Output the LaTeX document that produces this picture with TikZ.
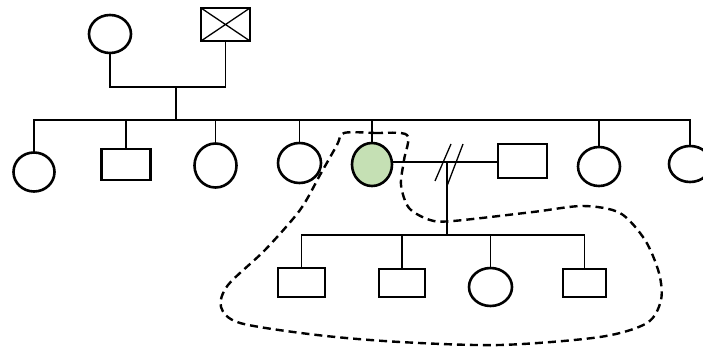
\documentclass[tikz,border=0pt]{standalone}
\usetikzlibrary{shapes.geometric,calc}
\definecolor{pgreen}{RGB}{197,224,180}
\begin{document}
\begin{tikzpicture}[x=1pt,y=-1pt,
 fem/.style={ellipse,draw,line width=2.6pt,inner sep=0,outer sep=0},
 male/.style={rectangle,draw,line width=2.6pt,inner sep=0,outer sep=0},
 conn/.style={line width=1.3pt},
 bound/.style={line width=2.4pt,dash pattern=on 8pt off 5pt}]
\useasboundingbox (0,0) rectangle (703,347);
\clip (0,0) rectangle (703,347);
% grandparents
\node[fem,minimum width=42pt,minimum height=38pt] (gm) at (110,34) {};
\node[male,minimum width=49pt,minimum height=33pt] (gf) at (225.5,24.5) {};
\draw[conn] (gf.north west) -- (gf.south east) (gf.south west) -- (gf.north east);
% siblings
\node[fem,minimum width=41pt,minimum height=39pt] (s1) at (34,172) {};
\node[male,minimum width=49pt,minimum height=31pt] (s2) at (126,164.5) {};
\node[fem,minimum width=42pt,minimum height=44pt] (s3) at (215.5,165.5) {};
\node[fem,minimum width=43pt,minimum height=40pt] (s4) at (299.5,163) {};
\node[fem,fill=pgreen,minimum width=40pt,minimum height=43pt] (s5) at (372,164.5) {};
\node[male,minimum width=49pt,minimum height=34pt] (s6) at (522.5,161) {};
\node[fem,minimum width=42pt,minimum height=39pt] (s7) at (599,166.5) {};
\node[fem,minimum width=42pt,minimum height=36pt] (s8) at (690,164) {};
% children
\node[male,minimum width=47pt,minimum height=29pt] (k1) at (301.5,282.5) {};
\node[male,minimum width=46pt,minimum height=28pt] (k2) at (402,283) {};
\node[fem,minimum width=43pt,minimum height=38pt] (k3) at (490.5,287) {};
\node[male,minimum width=43pt,minimum height=28pt] (k4) at (584.5,283) {};
% junctions
\coordinate (pj) at (176,87);
\coordinate (pd) at (176,120);
\coordinate (mj) at (447,162);
\coordinate (kj) at (447,235);
% connectors
\draw[conn] (gm.south) |- (gf.south |- pj) -- (gf.south);
\draw[conn] (pj) -- (pd);
\draw[conn] (s1.north) |- (s8.north |- pd) -- (s8.north);
\foreach \n in {s2,s3,s4,s5,s7} \draw[conn] (\n.north) -- (\n.north |- pd);
\draw[conn] (s5.east |- mj) -- (s6.west |- mj);
\draw[conn] (mj) -- (kj);
\draw[conn] ($(mj)+(-12,19)$) -- ($(mj)+(4,-18)$);
\draw[conn] ($(mj)+(0,24)$) -- ($(mj)+(16,-18)$);
\draw[conn] (k1.north) |- (k4.north |- kj) -- (k4.north);
\foreach \n in {k2,k3} \draw[conn] (\n.north) -- (\n.north |- kj);
% boundary
\draw[bound] plot[smooth cycle, tension=0.5] coordinates {
 (344,133) (375,133) (407,135) (404,160) (401,185) (409,208) (430,220) (453,221)
 (533,212) (583,206) (620,213) (645,240) (659,273) (661,300) (647,323) (600,337)
 (500,345) (400,342) (317,335) (240,323) (221,307) (228,285) (265,250) (300,210)
 (320,175) (337,145)};
\end{tikzpicture}
\end{document}
